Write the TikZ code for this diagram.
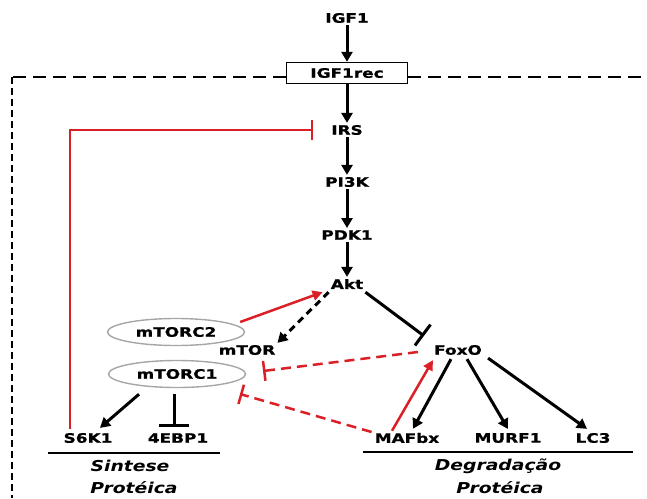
\documentclass[tikz,border=0pt]{standalone}
\usepackage{fontspec}
\usepackage{tikz}
\usetikzlibrary{arrows.meta, positioning, shapes.geometric, calc}
\newfontfamily\lblfont[FakeStretch=1.3, FakeBold=1]{DejaVu Sans}
\newfontfamily\capfont[FakeStretch=1.25]{DejaVu Sans}
\definecolor{inhred}{RGB}{218,32,38}

\tikzset{
  prot/.style={font=\lblfont\bfseries\fontsize{13}{15}\selectfont, inner sep=2pt},
  cplx/.style={prot, ellipse, draw=gray!70, line width=1.4pt, minimum width=137pt, minimum height=27pt},
  outcome/.style={font=\capfont\bfseries\itshape\fontsize{15}{17}\selectfont, inner sep=1pt},
  act/.style={-{Triangle[length=10pt,width=11pt]}, line width=3pt},
  inh/.style={-{Bar[width=20pt]}, line width=3pt},
  redact/.style={act, draw=inhred, line width=2.5pt, -{Triangle[length=10pt,width=10pt]}},
  redinh/.style={inh, draw=inhred, line width=2.5pt},
  cellframe/.style={line width=2.6pt, dash pattern=on 13pt off 7pt},
}

\begin{document}
\begin{tikzpicture}[x=1pt, y=1pt]
  \useasboundingbox (0,0) rectangle (647,-498);

  % signalling chain
  \node[prot] (igf) at (347,-18) {IGF1};
  \node[prot, draw, line width=1.4pt, minimum width=121pt, minimum height=21pt] (rec) at (347,-73) {IGF1rec};
  \node[prot] (irs) at (347,-130) {IRS};
  \node[prot] (pik) at (347,-182) {PI3K};
  \node[prot] (pdk) at (347,-235) {PDK1};
  \node[prot] (akt) at (347,-284) {Akt};

  % mTOR side
  \node[cplx] (mtorc2) at (176,-332) {mTORC2};
  \node[prot] (mtor) at (247,-350) {mTOR};
  \node[cplx] (mtorc1) at (177,-374) {mTORC1};
  \node[prot] (foxo) at (458,-350) {FoxO};

  % targets
  \node[prot] (s6k) at (88,-438) {S6K1};
  \node[prot] (ebp) at (178,-438) {4EBP1};
  \node[prot] (mafbx) at (407,-438) {MAFbx};
  \node[prot] (murf) at (508,-438) {MURF1};
  \node[prot] (lc) at (593,-438) {LC3};

  \node[outcome] (sint) at (130,-466) {Sintese};
  \node[outcome] (sprot) at (134,-488) {Protéica};
  \node[outcome] (deg) at (498,-466) {Degradação};
  \node[outcome] (dprot) at (500,-488) {Protéica};
  \draw[line width=2pt] (48,-453) -- (220,-453);
  \draw[line width=2pt] (363,-452) -- (633,-452);

  % cell membrane
  \coordinate (fl) at (12,-77);
  \coordinate (fb) at (12,-498);
  \coordinate (fr) at (647,-77);
  \draw[cellframe] (rec.west |- fl) -- (fl);
  \draw[line width=2.8pt, dash pattern=on 7pt off 4pt] (fl) -- (fb);
  \draw[cellframe] (rec.east |- fr) -- (fr);

  % activation chain
  \draw[act] (igf) -- (rec);
  \draw[act] (rec) -- (irs);
  \draw[act] (irs) -- (pik);
  \draw[act] (pik) -- (pdk);
  \draw[act] (pdk) -- (akt);

  % Akt branches
  \draw[redact] ([xshift=-5pt,yshift=10pt]mtorc2.east) -- ([xshift=-6pt,yshift=-1pt]akt.south west);
  \draw[act, dash pattern=on 7pt off 5pt] ([yshift=-1pt]akt.south west) -- (mtor.north east);
  \draw[inh, -{Bar[width=26pt]}] ([yshift=-1pt]akt.south east) -- ([xshift=-8pt,yshift=7pt]foxo.north west);

  % feedback to IRS
  \coordinate (fbk) at (70,-130);
  \draw[redinh, shorten >=16pt] ([yshift=2pt]s6k.north -| fbk) |- (irs.west);

  % FoxO and MAFbx inhibit mTORC1
  \coordinate (m1a) at (263,-371);
  \coordinate (m1b) at (240,-394);
  \draw[redinh, dash pattern=on 10pt off 6pt] ([xshift=-14pt,yshift=-2pt]foxo.west) -- (m1a);
  \draw[redinh, dash pattern=on 10pt off 6pt] ([xshift=-1pt,yshift=6pt]mafbx.west) -- (m1b);

  % FoxO targets
  \draw[redact] ([xshift=-15pt]mafbx.north) -- ([xshift=1pt,yshift=-3pt]foxo.south west);
  \draw[act] ([xshift=-7pt,yshift=-2pt]foxo.south) -- ([xshift=6pt,yshift=2pt]mafbx.north);
  \draw[act] ([xshift=9pt,yshift=-2pt]foxo.south) -- ([yshift=2pt]murf.north);
  \draw[act] ([xshift=4pt,yshift=-1pt]foxo.south east) -- ([xshift=-6pt,yshift=2pt]lc.north);

  % mTORC1 targets
  \draw[act] ([xshift=-38pt,yshift=-6pt]mtorc1.south) -- ([xshift=12pt,yshift=3pt]s6k.north);
  \draw[inh, -{Bar[width=30pt]}] ([xshift=-3pt,yshift=-6pt]mtorc1.south) -- ([xshift=-4pt,yshift=4pt]ebp.north);
\end{tikzpicture}
\end{document}
